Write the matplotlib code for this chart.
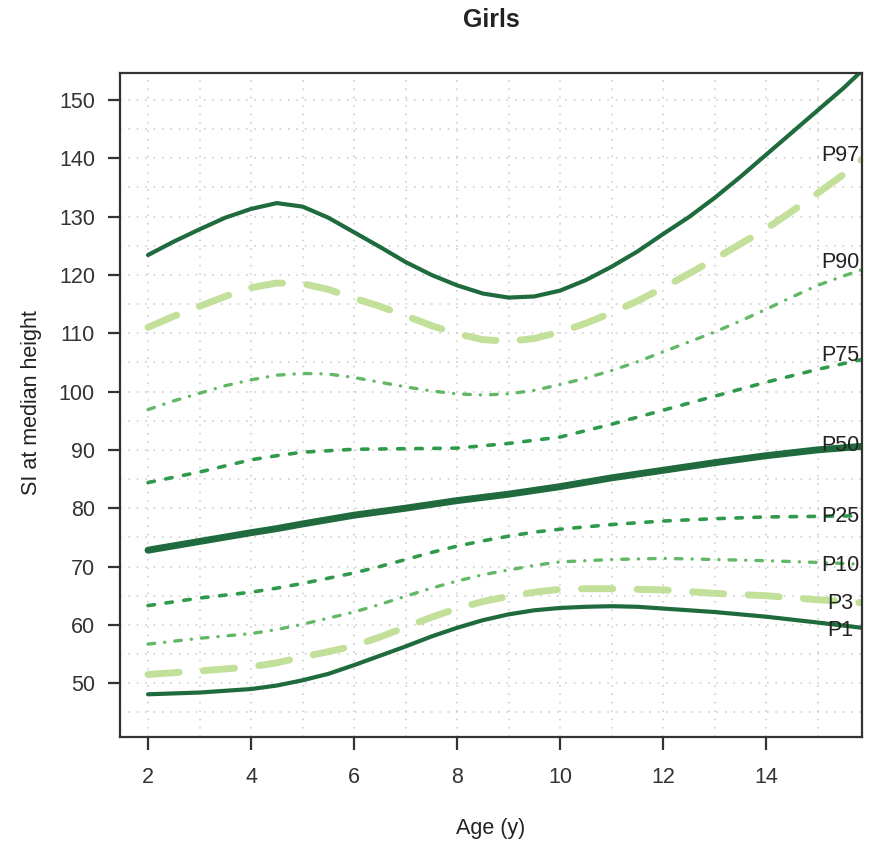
import matplotlib
matplotlib.use("Agg")
import matplotlib.pyplot as plt

plt.rcParams['font.family'] = ['Liberation Sans', 'DejaVu Sans']

# ages (years) where each curve was read; curved ones read every half year
ages_half = [2, 2.5, 3, 3.5, 4, 4.5, 5, 5.5, 6, 6.5, 7, 7.5, 8, 8.5, 9, 9.5, 10,
             10.5, 11, 11.5, 12, 12.5, 13, 13.5, 14, 14.5, 15, 15.5, 15.86]
ages_low = [2, 3, 4, 4.5, 5, 5.5, 6, 6.5, 7, 7.5, 8, 8.5, 9, 9.5, 10, 10.5, 11,
            11.5, 12, 13, 14, 15, 15.86]
ages_mid = [2, 3, 4, 4.5, 5, 6, 6.5, 7, 7.5, 8, 8.5, 9, 9.5, 10, 10.5, 11, 12,
            13, 14, 15, 15.86]
ages_int = [2, 3, 4, 4.5, 5, 6, 7, 8, 9, 10, 11, 12, 13, 14, 15, 15.86]

# SI at median height
p99 = [123.4, 125.7, 127.8, 129.8, 131.3, 132.3, 131.7, 129.8, 127.3, 124.8, 122.2,
       120.0, 118.2, 116.8, 116.1, 116.3, 117.3, 119.1, 121.4, 124.0, 127.0, 129.9,
       133.2, 136.8, 140.6, 144.4, 148.2, 152.0, 155.0]
p97 = [111.0, 112.9, 114.6, 116.3, 117.8, 118.6, 118.5, 117.5, 116.0, 114.6, 113.0,
       111.3, 109.9, 108.9, 108.6, 109.1, 110.2, 111.7, 113.5, 115.5, 117.8, 120.2,
       122.7, 125.3, 127.9, 130.9, 134.0, 137.2, 139.8]
p90 = [96.9, 98.4, 99.7, 101.0, 102.0, 102.8, 103.1, 103.0, 102.4, 101.6, 100.8,
       100.1, 99.6, 99.4, 99.6, 100.2, 101.2, 102.3, 103.6, 105.1, 106.8, 108.5,
       110.2, 112.1, 114.1, 116.2, 118.2, 119.8, 120.9]
p75 = [84.4, 86.2, 88.3, 89.0, 89.6, 90.1, 90.2, 90.3, 91.1, 92.2, 94.4, 96.8, 99.2,
       101.6, 103.8, 105.5]
p50 = [72.8, 74.3, 75.8, 76.5, 77.3, 78.8, 80.0, 81.3, 82.4, 83.7, 85.2, 86.5, 87.8,
       89.0, 90.0, 90.6]
p25 = [63.3, 64.6, 65.6, 66.3, 67.1, 68.9, 70.0, 71.2, 72.4, 73.5, 74.4, 75.2, 75.9,
       76.4, 76.8, 77.2, 77.8, 78.2, 78.5, 78.6, 78.7]
p10 = [56.7, 57.7, 58.5, 59.2, 60.1, 62.2, 63.5, 64.9, 66.3, 67.5, 68.6, 69.4, 70.2,
       70.8, 71.0, 71.2, 71.4, 71.2, 71.0, 70.7, 70.4]
p3 = [51.5, 52.1, 52.8, 53.5, 54.5, 55.4, 56.4, 57.9, 59.6, 61.3, 62.8, 64.0, 64.9,
      65.6, 66.1, 66.2, 66.2, 66.1, 66.0, 65.4, 65.0, 64.3, 63.8]
p1 = [48.1, 48.4, 49.0, 49.6, 50.5, 51.6, 53.1, 54.7, 56.3, 58.0, 59.5, 60.8, 61.8,
      62.5, 62.9, 63.1, 63.2, 63.1, 62.8, 62.2, 61.4, 60.4, 59.5]

labels = ["P97", "P90", "P75", "P50", "P25", "P10", "P3", "P1"]
label_y = [140.4, 122.1, 106.2, 90.8, 78.6, 70.2, 63.7, 59.1]
label_x = 15.44

dark = "#1f6b3d"
mid = "#2f9a4c"
dotdash = "#62b865"
light = "#c3e09a"

long_dash = (0, (4.5, 3.5))
short_dash = (0, (1.8, 3.2))
dot_dash = (0, (2.0, 3.0, 0.05, 3.0))

fig = plt.figure(figsize=(8.72, 8.46), dpi=100)
ax = fig.add_axes([0.1376, 0.1283, 0.8509, 0.7854])

# grid first so curves sit on top
ax.set_xticks(range(2, 16, 2))
ax.set_xticks(range(3, 16, 2), minor=True)
ax.set_yticks(range(50, 151, 10))
ax.set_yticks(range(45, 151, 10), minor=True)
ax.grid(True, which='both', color='#c8c8c8', linestyle=(0, (1, 4.5)), linewidth=1.1)
ax.set_axisbelow(True)

ax.plot(ages_half, p99, color=dark, lw=3.0, solid_capstyle='round')
ax.plot(ages_half, p97, color=light, lw=5.0, linestyle=long_dash, dash_capstyle='round')
ax.plot(ages_half, p90, color=dotdash, lw=2.4, linestyle=dot_dash, dash_capstyle='round')
ax.plot(ages_int, p75, color=mid, lw=2.6, linestyle=short_dash, dash_capstyle='round')
ax.plot(ages_int, p50, color=dark, lw=5.0, solid_capstyle='round')
ax.plot(ages_mid, p25, color=mid, lw=2.6, linestyle=short_dash, dash_capstyle='round')
ax.plot(ages_mid, p10, color=dotdash, lw=2.4, linestyle=dot_dash, dash_capstyle='round')
ax.plot(ages_low, p3, color=light, lw=5.0, linestyle=long_dash, dash_capstyle='round')
ax.plot(ages_low, p1, color=dark, lw=3.0, solid_capstyle='round')

for lab, yv in zip(labels, label_y):
    ax.text(label_x, yv, lab, ha='center', va='center', fontsize=15.5, color='#222222')

ax.set_xlim(1.456, 15.86)
ax.set_ylim(40.7, 154.6)

for sp in ax.spines.values():
    sp.set_color('#333333')
    sp.set_linewidth(1.6)
ax.tick_params(which='major', direction='out', length=9, width=1.6, color='#333333',
               labelsize=15.5, labelcolor='#333333')
ax.tick_params(axis='x', which='major', pad=12)
ax.tick_params(axis='y', which='major', pad=9)
ax.tick_params(which='minor', length=0)

fig.text(491 / 872, 1 - 20 / 846, "Girls", ha='center', va='center',
         fontsize=18, fontweight='bold', color='#222222')
fig.text(491 / 872, 1 - 828 / 846, "Age (y)", ha='center', va='center',
         fontsize=15.5, color='#222222')
fig.text(31 / 872, 1 - 403 / 846, "SI at median height", ha='center', va='center',
         rotation=90, fontsize=15.5, color='#222222')

fig.savefig("out.png", dpi=100)
